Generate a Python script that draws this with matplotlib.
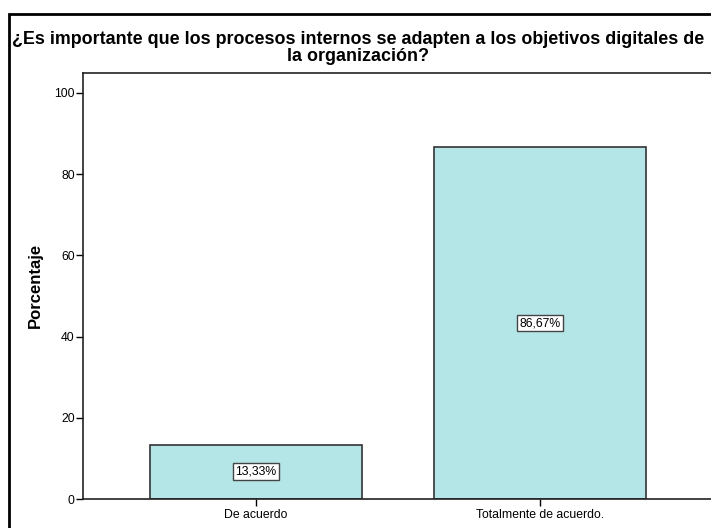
import matplotlib.pyplot as plt
from matplotlib.patches import Rectangle

# data
categorias = ["De acuerdo", "Totalmente de acuerdo."]
porcentajes = [13.33, 86.67]
etiquetas = ["13,33%", "86,67%"]
titulo = ("¿Es importante que los procesos internos se adapten a los objetivos digitales de\n"
          "la organización?")

plt.rcParams['font.family'] = ['Liberation Sans', 'DejaVu Sans']

fig = plt.figure(figsize=(7.11, 5.28), dpi=100)
ax = fig.add_axes([83/711, 29/528, 630/711, 426/528])

x = range(len(categorias))
bars = ax.bar(x, porcentajes, width=0.746, color="#b4e6e8",
              edgecolor="#333333", linewidth=1.2)

# percentage labels in boxes at bar middle
for b, lab in zip(bars, etiquetas):
    ax.text(b.get_x() + b.get_width()/2, b.get_height()/2, lab,
            ha="center", va="center", fontsize=8.8,
            bbox=dict(boxstyle="square,pad=0.2", fc="white", ec="#444444", lw=1))

ax.set_xlim(-0.609, 1.609)
ax.set_ylim(0, 104.9)
ax.set_yticks([0, 20, 40, 60, 80, 100])
ax.set_xticks(list(x))
ax.set_xticklabels(categorias, fontsize=8.8)
ax.tick_params(axis="y", labelsize=8.8, length=5, width=1, pad=1)
ax.tick_params(axis="x", length=5, width=1, pad=2)

for s in ["left", "bottom", "top", "right"]:
    ax.spines[s].set_color("#222222")
    ax.spines[s].set_linewidth(1.2)

# y label
fig.text(35/711, 1 - 285/528, "Porcentaje", rotation=90, ha="center", va="center",
         fontsize=12, fontweight="bold")

# title
fig.text(358/711, 1 - 48/528, titulo, ha="center", va="center",
         fontsize=12.9, fontweight="bold", linespacing=0.98)

# outer frame of the chart (cropped at right / bottom)
fig.patches.append(Rectangle((9/711, -0.05), 1.1, 1 - 14/528 + 0.05,
                             transform=fig.transFigure, fill=False,
                             edgecolor="black", linewidth=2, clip_on=False))

fig.savefig("out.png", dpi=100)
